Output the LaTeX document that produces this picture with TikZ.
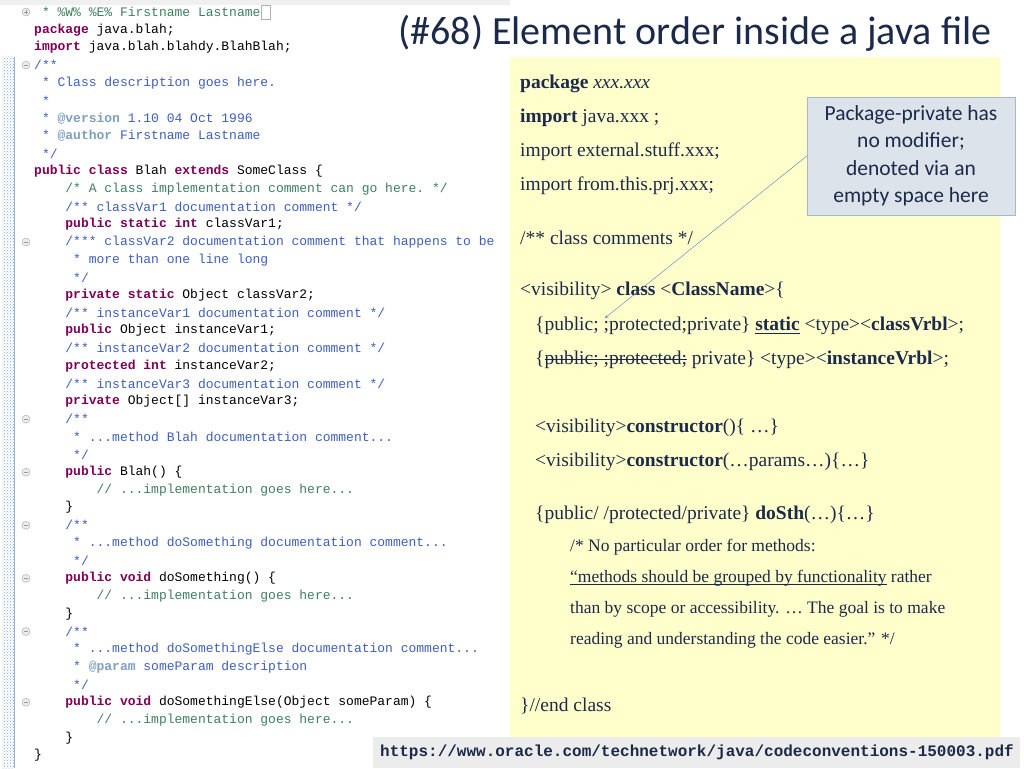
\documentclass[tikz,border=0pt]{standalone}
\usepackage{fontspec}
\setmainfont{Liberation Serif}
\setsansfont{Carlito}
\setmonofont{Liberation Mono}
\usetikzlibrary{positioning,patterns}

\definecolor{kw}{HTML}{7F0055}
\definecolor{cm}{HTML}{3F5FBF}
\definecolor{tg}{HTML}{7F9FBF}
\definecolor{lc}{HTML}{3F7F5F}
\definecolor{navy}{HTML}{1B2A4A}
\definecolor{panel}{HTML}{FFFFCC}
\definecolor{callfill}{HTML}{DCE3EA}
\definecolor{callline}{HTML}{A9B8C8}
\definecolor{arrowc}{HTML}{4F81BD}

\tikzset{
  codeline/.style={anchor=west, inner sep=0pt, font=\ttfamily\fontsize{13}{13}\selectfont},
  panelline/.style={anchor=west, inner sep=0pt, text=navy, font=\fontsize{19.5}{19.5}\selectfont},
  noteline/.style={panelline, font=\fontsize{17.5}{17.5}\selectfont},
  foldmark/.style={circle, draw=gray!70, fill=gray!15, inner sep=0pt, minimum size=8pt},
}
\newcommand{\K}[1]{\textcolor{kw}{\textbf{#1}}}
\newcommand{\C}[1]{\textcolor{cm}{#1}}
\newcommand{\T}[1]{\textcolor{tg}{\textbf{#1}}}
\newcommand{\G}[1]{\textcolor{lc}{#1}}
\newsavebox{\linebox}
\newcommand{\ulin}[1]{\sbox{\linebox}{#1}\rlap{\rule[-0.14em]{\wd\linebox}{0.6pt}}\usebox{\linebox}}
\newcommand{\strk}[1]{\sbox{\linebox}{#1}\rlap{\rule[0.28em]{\wd\linebox}{0.6pt}}\usebox{\linebox}}
% code line: number, column, text
\newcommand{\cl}[3]{\node[codeline] (c#1) at ({34+7.8*#2},{-12-17.7*#1}) {#3};}

\begin{document}
\begin{tikzpicture}[x=1pt,y=1pt]
\useasboundingbox (0,0) rectangle (1024,-768);
\fill[white] (0,0) rectangle (1024,-768);

%code panel
\fill[gray!12] (0,0) rectangle (510,-5);
\fill[pattern=crosshatch dots, pattern color=arrowc!70] (2,-57) rectangle (14,-768);
\draw[arrowc!60] (14,-57) -- (14,-768);

\cl{0}{1}{\G{* \%W\% \%E\% Firstname Lastname}}
\cl{1}{0}{\K{package} java.blah;}
\cl{2}{0}{\K{import} java.blah.blahdy.BlahBlah;}
\cl{3}{0}{\C{/**}}
\cl{4}{1}{\C{* Class description goes here.}}
\cl{5}{1}{\C{*}}
\cl{6}{1}{\C{* \T{@version} 1.10 04 Oct 1996}}
\cl{7}{1}{\C{* \T{@author} Firstname Lastname}}
\cl{8}{1}{\C{*/}}
\cl{9}{0}{\K{public} \K{class} Blah \K{extends} SomeClass \{}
\cl{10}{4}{\G{/* A class implementation comment can go here. */}}
\cl{11}{4}{\C{/** classVar1 documentation comment */}}
\cl{12}{4}{\K{public} \K{static} \K{int} classVar1;}
\cl{13}{4}{\C{/*** classVar2 documentation comment that happens to be}}
\cl{14}{5}{\C{* more than one line long}}
\cl{15}{5}{\C{*/}}
\cl{16}{4}{\K{private} \K{static} Object classVar2;}
\cl{17}{4}{\C{/** instanceVar1 documentation comment */}}
\cl{18}{4}{\K{public} Object instanceVar1;}
\cl{19}{4}{\C{/** instanceVar2 documentation comment */}}
\cl{20}{4}{\K{protected} \K{int} instanceVar2;}
\cl{21}{4}{\C{/** instanceVar3 documentation comment */}}
\cl{22}{4}{\K{private} Object[] instanceVar3;}
\cl{23}{4}{\C{/**}}
\cl{24}{5}{\C{* ...method Blah documentation comment...}}
\cl{25}{5}{\C{*/}}
\cl{26}{4}{\K{public} Blah() \{}
\cl{27}{8}{\G{// ...implementation goes here...}}
\cl{28}{4}{\}}
\cl{29}{4}{\C{/**}}
\cl{30}{5}{\C{* ...method doSomething documentation comment...}}
\cl{31}{5}{\C{*/}}
\cl{32}{4}{\K{public} \K{void} doSomething() \{}
\cl{33}{8}{\G{// ...implementation goes here...}}
\cl{34}{4}{\}}
\cl{35}{4}{\C{/**}}
\cl{36}{5}{\C{* ...method doSomethingElse documentation comment...}}
\cl{37}{5}{\C{* \T{@param} someParam description}}
\cl{38}{5}{\C{*/}}
\cl{39}{4}{\K{public} \K{void} doSomethingElse(Object someParam) \{}
\cl{40}{8}{\G{// ...implementation goes here...}}
\cl{41}{4}{\}}
\cl{42}{0}{\}}
\draw[gray!60] (c0.east) ++(1,-7) rectangle ++(9,14);

%fold marks
\foreach \n in {3,13,23,26,29,32,35,39}
  \node[foldmark] (f\n) at (26,{-12-17.7*\n}) {};
\node[foldmark] (f0) at (26,-12) {};
\foreach \n in {3,13,23,26,29,32,35,39}
  \draw[gray!80] ([xshift=-2pt]f\n.center) -- ([xshift=2pt]f\n.center);
\draw[gray!80] ([xshift=-2pt]f0.center) -- ([xshift=2pt]f0.center)
               ([yshift=-2pt]f0.center) -- ([yshift=2pt]f0.center);

%title
\node[text=navy, font=\sffamily\fontsize{40}{40}\selectfont] (title) at (695,-33) {(\#68) Element order inside a java file};

%yellow panel
\fill[panel] (510,-57) rectangle (1000,-738);
\node[panelline] (p1) at (520,-84) {\textbf{package} \textit{xxx.xxx}};
\node[panelline] (p2) at (520,-118) {\textbf{import} java.xxx ;};
\node[panelline] (p3) at (520,-152) {import external.stuff.xxx;};
\node[panelline] (p4) at (520,-186) {import from.this.prj.xxx;};
\node[panelline] (p5) at (520,-238) {/** class comments */};
\node[panelline] (p6) at (520,-291) {<visibility> \textbf{class} <\textbf{ClassName}>\{};
\node[panelline] (p7) at (535,-326) {\{public; ;protected;private\} \ulin{\textbf{static}} <type><\textbf{classVrbl}>;};
\node[panelline] (p8) at (535,-360) {\{\strk{public; ;protected;} private\} <type><\textbf{instanceVrbl}>;};
\node[panelline] (p9) at (535,-428) {<visibility>\textbf{constructor}()\{ …\}};
\node[panelline] (p10) at (535,-462) {<visibility>\textbf{constructor}(…params…)\{…\}};
\node[panelline] (p11) at (535,-515) {\{public/ /protected/private\} \textbf{doSth}(…)\{…\}};
\node[noteline] (p12) at (570,-547) {/* No particular order for methods:};
\node[noteline] (p13) at (570,-578) {\ulin{“methods should be grouped by functionality} rather};
\node[noteline] (p14) at (570,-609) {than by scope or accessibility. … The goal is to make};
\node[noteline] (p15) at (570,-640) {reading and understanding the code easier.” */};
\node[panelline] (p16) at (520,-706) {\}//end class};

%callout
\node[draw=callline, fill=callfill, text=navy, align=center, minimum width=208pt, minimum height=118pt,
      font=\sffamily\fontsize{21.5}{27.5}\selectfont] (note) at (911,-156)
  {Package-private has\\no modifier;\\denoted via an\\empty space here};
\coordinate (gap) at (605,-318);
\draw[arrowc, -stealth] (note.west) -- (gap);

%url
\fill[gray!15] (373,-737) rectangle (1020,-768);
\node[text=navy, font=\ttfamily\bfseries\fontsize{16}{16}\selectfont] (url) at (697,-752)
  {https://www.oracle.com/technetwork/java/codeconventions-150003.pdf};
\end{tikzpicture}
\end{document}
